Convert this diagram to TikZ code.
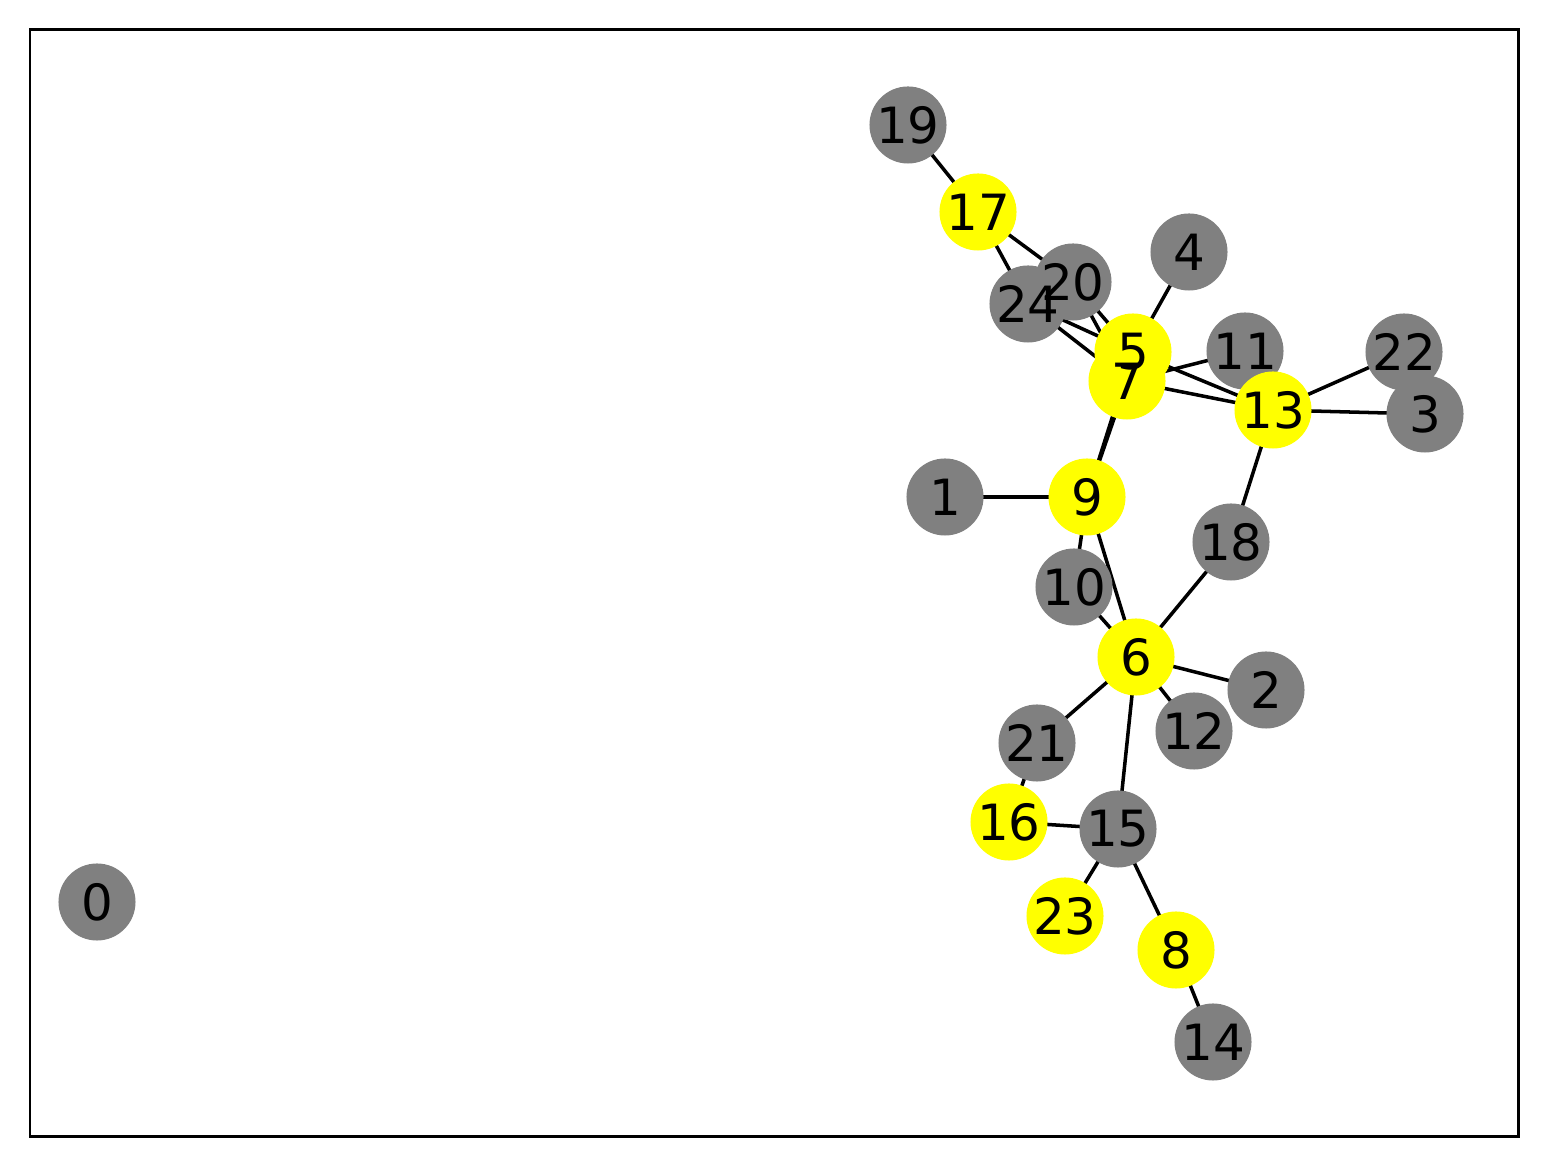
\documentclass[tikz,border=0pt]{standalone}
\usepackage{fontspec}
\setmainfont{DejaVu Sans}
\pgfdeclarelayer{edges}
\pgfdeclarelayer{labels}
\pgfsetlayers{edges,main,labels}
\definecolor{vyellow}{RGB}{255,255,0}
\definecolor{vgray}{RGB}{128,128,128}

\tikzset{
    vtx/.style={circle,minimum size=0.77cm,inner sep=0pt},
    grayvtx/.style={vtx,fill=vgray},
    yelvtx/.style={vtx,fill=vyellow},
    lbl/.style={inner sep=0pt,font=\fontsize{14.2}{15}\selectfont},
    edge/.style={line width=1pt}
}

\begin{document}
\begin{tikzpicture}[x=0.01cm,y=-0.01cm]
    \useasboundingbox (0,0) rectangle (1548,1168);
    \draw[line width=0.85pt] (30,30) rectangle (1518,1137);
    % vertices
    \node[grayvtx] (n0) at (97,902) {};
    \node[grayvtx] (n1) at (945,497) {};
    \node[grayvtx] (n2) at (1266,690) {};
    \node[grayvtx] (n3) at (1425,414) {};
    \node[grayvtx] (n4) at (1189,252) {};
    \node[yelvtx] (n5) at (1133,352) {};
    \node[yelvtx] (n6) at (1136,657) {};
    \node[yelvtx] (n7) at (1127,381) {};
    \node[yelvtx] (n8) at (1176,950) {};
    \node[yelvtx] (n9) at (1087,497) {};
    \node[grayvtx] (n10) at (1074,587) {};
    \node[grayvtx] (n11) at (1245,351) {};
    \node[grayvtx] (n12) at (1194,731) {};
    \node[yelvtx] (n13) at (1273,410) {};
    \node[grayvtx] (n14) at (1213,1042) {};
    \node[grayvtx] (n15) at (1118,829) {};
    \node[yelvtx] (n16) at (1009,822) {};
    \node[yelvtx] (n17) at (978,212) {};
    \node[grayvtx] (n18) at (1231,542) {};
    \node[grayvtx] (n19) at (908,125) {};
    \node[grayvtx] (n20) at (1073,282) {};
    \node[grayvtx] (n21) at (1037,743) {};
    \node[grayvtx] (n22) at (1404,352) {};
    \node[yelvtx] (n23) at (1065,916) {};
    \node[grayvtx] (n24) at (1028,304) {};
    % labels
    \begin{pgfonlayer}{labels}
    \node[lbl] (t0) at (n0) {0};
    \node[lbl] (t1) at (n1) {1};
    \node[lbl] (t2) at (n2) {2};
    \node[lbl] (t3) at (n3) {3};
    \node[lbl] (t4) at (n4) {4};
    \node[lbl] (t5) at (n5) {5};
    \node[lbl] (t6) at (n6) {6};
    \node[lbl] (t7) at (n7) {7};
    \node[lbl] (t8) at (n8) {8};
    \node[lbl] (t9) at (n9) {9};
    \node[lbl] (t10) at (n10) {10};
    \node[lbl] (t11) at (n11) {11};
    \node[lbl] (t12) at (n12) {12};
    \node[lbl] (t13) at (n13) {13};
    \node[lbl] (t14) at (n14) {14};
    \node[lbl] (t15) at (n15) {15};
    \node[lbl] (t16) at (n16) {16};
    \node[lbl] (t17) at (n17) {17};
    \node[lbl] (t18) at (n18) {18};
    \node[lbl] (t19) at (n19) {19};
    \node[lbl] (t20) at (n20) {20};
    \node[lbl] (t21) at (n21) {21};
    \node[lbl] (t22) at (n22) {22};
    \node[lbl] (t23) at (n23) {23};
    \node[lbl] (t24) at (n24) {24};
    \end{pgfonlayer}
    % edges
    \begin{pgfonlayer}{edges}
    \draw[edge] (n19.center)--(n17.center);
    \draw[edge] (n17.center)--(n20.center);
    \draw[edge] (n17.center)--(n24.center);
    \draw[edge] (n20.center)--(n5.center);
    \draw[edge] (n20.center)--(n7.center);
    \draw[edge] (n24.center)--(n5.center);
    \draw[edge] (n24.center)--(n7.center);
    \draw[edge] (n4.center)--(n5.center);
    \draw[edge] (n5.center)--(n13.center);
    \draw[edge] (n11.center)--(n7.center);
    \draw[edge] (n7.center)--(n13.center);
    \draw[edge] (n9.center)--(n7.center);
    \draw[edge] (n9.center)--(n5.center);
    \draw[edge] (n22.center)--(n13.center);
    \draw[edge] (n3.center)--(n13.center);
    \draw[edge] (n13.center)--(n18.center);
    \draw[edge] (n18.center)--(n6.center);
    \draw[edge] (n1.center)--(n9.center);
    \draw[edge] (n9.center)--(n10.center);
    \draw[edge] (n9.center)--(n6.center);
    \draw[edge] (n10.center)--(n6.center);
    \draw[edge] (n6.center)--(n2.center);
    \draw[edge] (n6.center)--(n12.center);
    \draw[edge] (n6.center)--(n21.center);
    \draw[edge] (n6.center)--(n15.center);
    \draw[edge] (n21.center)--(n16.center);
    \draw[edge] (n16.center)--(n15.center);
    \draw[edge] (n15.center)--(n23.center);
    \draw[edge] (n15.center)--(n8.center);
    \draw[edge] (n8.center)--(n14.center);
    \end{pgfonlayer}
\end{tikzpicture}
\end{document}
